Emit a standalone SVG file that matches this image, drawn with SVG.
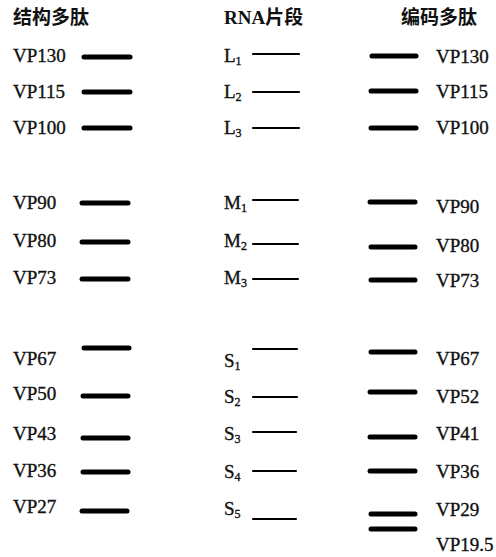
<svg xmlns="http://www.w3.org/2000/svg" width="496" height="557" viewBox="0 0 496 557">
  <style>
    .hd { font-family: "Noto Sans CJK SC", "Liberation Serif", sans-serif; font-size: 19px; font-weight: bold; fill: #111; }
    .hdl { font-family: "Liberation Serif", "Noto Sans CJK SC", serif; font-size: 19px; font-weight: bold; fill: #111; }
    .lb { font-family: "Liberation Serif", serif; font-size: 19px; fill: #111; stroke: #111; stroke-width: 0.35; }
    .sub { font-size: 12px; }
    .thick { stroke: #000; stroke-width: 5; stroke-linecap: round; }
    .thin { stroke: #000; stroke-width: 2.2; stroke-linecap: round; }
  </style>
  <rect width="496" height="557" fill="#fff"/>

  <!-- column headings -->
  <g id="headings">
    <text class="hd" x="13" y="24">结构多肽</text>
    <text class="hdl" x="224" y="24">RNA<tspan class="hd">片段</tspan></text>
    <text class="hd" x="401" y="24">编码多肽</text>
  </g>

  <!-- structural polypeptides -->
  <g id="structural">
    <g id="s-vp130"><text class="lb" x="13" y="62">VP130</text><line class="thick" x1="84" y1="57" x2="130" y2="57"/></g>
    <g id="s-vp115"><text class="lb" x="13" y="98">VP115</text><line class="thick" x1="84" y1="92" x2="130" y2="92"/></g>
    <g id="s-vp100"><text class="lb" x="13" y="134">VP100</text><line class="thick" x1="84" y1="128" x2="130" y2="128"/></g>
    <g id="s-vp90"><text class="lb" x="13" y="209">VP90</text><line class="thick" x1="82" y1="203" x2="128" y2="203"/></g>
    <g id="s-vp80"><text class="lb" x="13" y="247">VP80</text><line class="thick" x1="82" y1="242" x2="128" y2="242"/></g>
    <g id="s-vp73"><text class="lb" x="13" y="284">VP73</text><line class="thick" x1="82" y1="279" x2="128" y2="279"/></g>
    <g id="s-vp67"><text class="lb" x="13" y="365">VP67</text><line class="thick" x1="84" y1="348" x2="129" y2="348"/></g>
    <g id="s-vp50"><text class="lb" x="13" y="400">VP50</text><line class="thick" x1="83" y1="396" x2="128" y2="396"/></g>
    <g id="s-vp43"><text class="lb" x="13" y="440">VP43</text><line class="thick" x1="83" y1="438" x2="128" y2="438"/></g>
    <g id="s-vp36"><text class="lb" x="13" y="477">VP36</text><line class="thick" x1="83" y1="472" x2="128" y2="472"/></g>
    <g id="s-vp27"><text class="lb" x="13" y="513">VP27</text><line class="thick" x1="82" y1="511" x2="127" y2="511"/></g>
  </g>

  <!-- RNA segments -->
  <g id="rna">
    <g id="r-l1"><text class="lb" x="224" y="62">L<tspan class="sub" dy="3">1</tspan></text><line class="thin" x1="253" y1="54" x2="299" y2="54"/></g>
    <g id="r-l2"><text class="lb" x="224" y="98">L<tspan class="sub" dy="3">2</tspan></text><line class="thin" x1="253" y1="92" x2="299" y2="92"/></g>
    <g id="r-l3"><text class="lb" x="224" y="134">L<tspan class="sub" dy="3">3</tspan></text><line class="thin" x1="253" y1="128" x2="299" y2="128"/></g>
    <g id="r-m1"><text class="lb" x="224" y="209">M<tspan class="sub" dy="3">1</tspan></text><line class="thin" x1="253" y1="200" x2="298" y2="200"/></g>
    <g id="r-m2"><text class="lb" x="224" y="247">M<tspan class="sub" dy="3">2</tspan></text><line class="thin" x1="253" y1="244" x2="298" y2="244"/></g>
    <g id="r-m3"><text class="lb" x="224" y="284">M<tspan class="sub" dy="3">3</tspan></text><line class="thin" x1="253" y1="279" x2="298" y2="279"/></g>
    <g id="r-s1"><text class="lb" x="224" y="367">S<tspan class="sub" dy="3">1</tspan></text><line class="thin" x1="253" y1="349" x2="297" y2="349"/></g>
    <g id="r-s2"><text class="lb" x="224" y="403">S<tspan class="sub" dy="3">2</tspan></text><line class="thin" x1="253" y1="397" x2="297" y2="397"/></g>
    <g id="r-s3"><text class="lb" x="224" y="440">S<tspan class="sub" dy="3">3</tspan></text><line class="thin" x1="253" y1="432" x2="296" y2="432"/></g>
    <g id="r-s4"><text class="lb" x="224" y="478">S<tspan class="sub" dy="3">4</tspan></text><line class="thin" x1="253" y1="471" x2="296" y2="471"/></g>
    <g id="r-s5"><text class="lb" x="224" y="515">S<tspan class="sub" dy="3">5</tspan></text><line class="thin" x1="253" y1="519" x2="296" y2="519"/></g>
  </g>

  <!-- encoded polypeptides -->
  <g id="encoded">
    <g id="e-vp130"><text class="lb" x="436" y="63">VP130</text><line class="thick" x1="372" y1="56" x2="416" y2="56"/></g>
    <g id="e-vp115"><text class="lb" x="436" y="98">VP115</text><line class="thick" x1="371" y1="91" x2="416" y2="91"/></g>
    <g id="e-vp100"><text class="lb" x="436" y="134">VP100</text><line class="thick" x1="371" y1="128" x2="416" y2="128"/></g>
    <g id="e-vp90"><text class="lb" x="436" y="213">VP90</text><line class="thick" x1="370" y1="202" x2="415" y2="202"/></g>
    <g id="e-vp80"><text class="lb" x="436" y="252">VP80</text><line class="thick" x1="371" y1="247" x2="415" y2="247"/></g>
    <g id="e-vp73"><text class="lb" x="436" y="287">VP73</text><line class="thick" x1="371" y1="280" x2="415" y2="280"/></g>
    <g id="e-vp67"><text class="lb" x="436" y="365">VP67</text><line class="thick" x1="371" y1="352" x2="415" y2="352"/></g>
    <g id="e-vp52"><text class="lb" x="436" y="403">VP52</text><line class="thick" x1="370" y1="392" x2="415" y2="392"/></g>
    <g id="e-vp41"><text class="lb" x="436" y="440">VP41</text><line class="thick" x1="370" y1="437" x2="415" y2="437"/></g>
    <g id="e-vp36"><text class="lb" x="436" y="478">VP36</text><line class="thick" x1="370" y1="471" x2="415" y2="471"/></g>
    <g id="e-vp29"><text class="lb" x="436" y="516">VP29</text><line class="thick" x1="371" y1="514" x2="415" y2="514"/></g>
    <g id="e-vp19-5"><text class="lb" x="436" y="551">VP19.5</text><line class="thick" x1="371" y1="529" x2="415" y2="529"/></g>
  </g>
</svg>
